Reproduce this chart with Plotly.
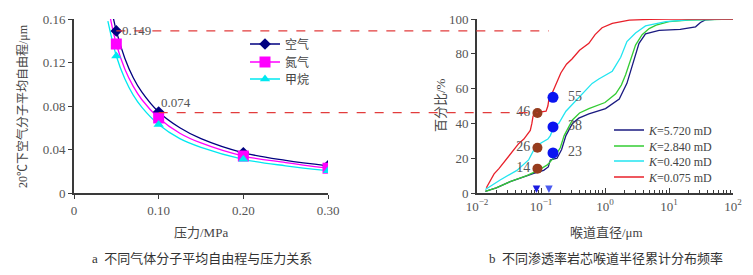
import math
import plotly.graph_objects as go

# ---------------- data: left chart (mean free path vs pressure) ----------------
pressure = [0.04, 0.05, 0.06, 0.07, 0.08, 0.10, 0.125, 0.15, 0.20, 0.25, 0.30]
mfp_air = [0.186, 0.149, 0.124, 0.106, 0.093, 0.0745, 0.060, 0.050, 0.037, 0.030, 0.025]
mfp_n2 = [0.172, 0.137, 0.114, 0.098, 0.086, 0.069, 0.055, 0.046, 0.034, 0.028, 0.0228]
mfp_ch4 = [0.158, 0.126, 0.105, 0.090, 0.079, 0.063, 0.050, 0.042, 0.031, 0.025, 0.0205]
marker_pressure = [0.05, 0.10, 0.20, 0.30]
gas_names = ["空气", "氮气", "甲烷"]
left_xticks = [0, 0.10, 0.20, 0.30]
left_xtick_text = ["0", "0.10", "0.20", "0.30"]
left_yticks = [0, 0.04, 0.08, 0.12, 0.16]
left_ytick_text = ["0", "0.04", "0.08", "0.12", "0.16"]
label_hi = 0.149
label_lo = 0.074

# ---------------- data: right chart (cumulative pore-throat distribution) ----------------
d_k5720 = [0.0135, 0.02, 0.033, 0.05, 0.077, 0.11, 0.13, 0.14, 0.178, 0.21, 0.245, 0.28, 0.31, 0.39,
           0.56, 1.02, 1.3, 1.67, 2.2, 2.8, 3.4, 4.3, 5.5, 7.0, 15, 26, 31, 37, 60, 100]
p_k5720 = [1, 3, 6.5, 9, 11.3, 13, 15, 19, 20, 25, 33, 37, 40, 43,
           45.5, 48.5, 51, 54, 63, 76, 86, 91.5, 92.5, 93.5, 94, 95.5, 98, 99.5, 100, 100]
d_k2840 = [0.0135, 0.02, 0.033, 0.06, 0.09, 0.124, 0.14, 0.165, 0.2, 0.23, 0.31, 0.4, 0.56, 1.0,
           1.47, 1.8, 2.1, 2.5, 3.0, 3.8, 4.9, 6.3, 10, 20, 100]
p_k2840 = [1, 3, 6.5, 10, 13, 16, 18, 21, 26, 33, 42, 46, 48.5, 52,
           57, 62, 68, 77, 85, 91, 94.5, 96.5, 98.5, 99.3, 100]
d_k0420 = [0.0135, 0.023, 0.042, 0.064, 0.078, 0.1, 0.128, 0.14, 0.158, 0.19, 0.245, 0.35, 0.45,
           0.63, 0.8, 1.3, 1.76, 2.2, 3.0, 4.3, 8.9, 20, 100]
p_k0420 = [2, 7.5, 13, 19, 25, 28.7, 31, 33, 38, 40, 47, 53, 57,
           63, 65.5, 70, 78, 87, 92, 96, 98.5, 99.5, 100]
d_k0075 = [0.014, 0.017, 0.0185, 0.022, 0.028, 0.035, 0.045, 0.054, 0.063, 0.068, 0.072, 0.075, 0.08,
           0.1, 0.12, 0.128, 0.133, 0.148, 0.17, 0.204, 0.25, 0.305, 0.4, 0.56, 0.7, 0.9, 1.3, 2.4, 5, 10, 100]
p_k0075 = [3, 9, 11, 14, 19, 23, 28.5, 31, 34, 36, 40, 44, 46,
           46.5, 47, 50, 54, 57, 62, 69, 74, 77, 82, 86, 91, 95, 97.5, 99.3, 99.8, 100, 100]
k_names = ["<i>K</i>=5.720 mD", "<i>K</i>=2.840 mD", "<i>K</i>=0.420 mD", "<i>K</i>=0.075 mD"]
lo_points_x = 0.088
lo_points_y = [46, 26, 14]
hi_points_x = 0.154
hi_points_y = [55, 38, 23]
guide_lo_x = 0.085
guide_hi_x = 0.133
right_xticks = [0.01, 0.1, 1, 10, 100]
right_xtick_text = ["10<sup>−2</sup>", "10<sup>−1</sup>", "10<sup>0</sup>", "10<sup>1</sup>", "10<sup>2</sup>"]
right_yticks = [0, 20, 40, 60, 80, 100]

# ---------------- style / layout ----------------
W, H = 753, 275
FONT = "Liberation Serif, Noto Sans CJK SC, serif"
AX = "#3a3a3a"
TXT = "#555555"
L_DOM_X = [74 / W, 328 / W]
R_DOM_X = [477 / W, 733 / W]
DOM_Y = [1 - 193 / H, 1 - 19 / H]
L_XR = [0, 0.30]
L_YR = [0, 0.16]
R_XR = [-2, 2]
R_YR = [0, 100]

gas_colors = ["#000080", "#ff00ff", "#00e8f0"]
gas_symbols = ["diamond", "square", "triangle-up"]
gas_sizes = [9, 11, 9]
k_colors = ["#1a1a80", "#33cc33", "#22e5f0", "#e8202a"]


def lx_paper(p):
    return L_DOM_X[0] + (p - L_XR[0]) / (L_XR[1] - L_XR[0]) * (L_DOM_X[1] - L_DOM_X[0])


def rx_paper(d):
    return R_DOM_X[0] + (math.log10(d) - R_XR[0]) / (R_XR[1] - R_XR[0]) * (R_DOM_X[1] - R_DOM_X[0])


def ly_paper(v):
    return DOM_Y[0] + (v - L_YR[0]) / (L_YR[1] - L_YR[0]) * (DOM_Y[1] - DOM_Y[0])


fig = go.Figure()

# left curves
series = [mfp_air, mfp_n2, mfp_ch4]
legend_ids = ["legend", "legend2", "legend3"]
for i, vals in enumerate(series):
    fig.add_trace(go.Scatter(x=pressure, y=vals, mode="lines", line=dict(color=gas_colors[i], width=1.3, shape="spline"),
                             showlegend=False, xaxis="x", yaxis="y", hoverinfo="skip"))
for i, vals in enumerate(series):
    mx = [p for p in pressure if p in marker_pressure]
    my = [v for p, v in zip(pressure, vals) if p in marker_pressure]
    fig.add_trace(go.Scatter(x=mx, y=my, mode="markers",
                             marker=dict(color=gas_colors[i], symbol=gas_symbols[i], size=gas_sizes[i]),
                             showlegend=False, xaxis="x", yaxis="y"))
    fig.add_trace(go.Scatter(x=[None], y=[None], mode="lines+markers", name=gas_names[i],
                             line=dict(color=gas_colors[i], width=1.5),
                             marker=dict(color=gas_colors[i], symbol=gas_symbols[i], size=gas_sizes[i]),
                             legend=legend_ids[i], xaxis="x", yaxis="y"))

# right curves
k_series = [(d_k5720, p_k5720), (d_k2840, p_k2840), (d_k0420, p_k0420), (d_k0075, p_k0075)]
k_legends = ["legend4", "legend5", "legend6", "legend7"]
for i, (dx, py) in enumerate(k_series):
    fig.add_trace(go.Scatter(x=dx, y=py, mode="lines", name=k_names[i], line=dict(color=k_colors[i], width=1.3),
                             legend=k_legends[i], xaxis="x2", yaxis="y2"))

# guide lines
shapes = []
shapes.append(dict(type="line", xref="paper", yref="paper",
                   x0=lx_paper(marker_pressure[0]), x1=rx_paper(guide_hi_x),
                   y0=ly_paper(label_hi), y1=ly_paper(label_hi),
                   line=dict(color="#e23c3c", width=1.2, dash="dash"), layer="above"))
shapes.append(dict(type="line", xref="paper", yref="paper",
                   x0=lx_paper(marker_pressure[1]), x1=rx_paper(lo_points_x),
                   y0=ly_paper(label_lo), y1=ly_paper(label_lo),
                   line=dict(color="#e23c3c", width=1.2, dash="dash"), layer="above"))
hi_top = label_hi / L_YR[1] * R_YR[1]
shapes.append(dict(type="line", xref="x2", yref="y2", x0=math.log10(guide_hi_x), x1=math.log10(guide_hi_x),
                   y0=hi_top, y1=1.5, line=dict(color="#4a5af0", width=1.5, dash="dash"), layer="above"))
shapes.append(dict(type="line", xref="x2", yref="y2", x0=math.log10(guide_lo_x), x1=math.log10(guide_lo_x),
                   y0=lo_points_y[0], y1=1.5, line=dict(color="#1a1ae0", width=1.5, dash="dot"), layer="above"))

# points
fig.add_trace(go.Scatter(x=[lo_points_x] * 3, y=lo_points_y, mode="markers+text",
                         text=[str(v) for v in lo_points_y], textposition="middle left",
                         textfont=dict(family=FONT, size=14, color=TXT),
                         marker=dict(color="#963c1e", size=10), showlegend=False, xaxis="x2", yaxis="y2"))
fig.add_trace(go.Scatter(x=[hi_points_x] * 3, y=hi_points_y, mode="markers+text",
                         text=["  " + str(v) for v in hi_points_y], textposition="middle right",
                         textfont=dict(family=FONT, size=14, color=TXT),
                         marker=dict(color="#0a14f0", size=11), showlegend=False, xaxis="x2", yaxis="y2"))

annotations = []
for gx, col in [(guide_lo_x, "#1a1ae0"), (guide_hi_x, "#4a5af0")]:
    annotations.append(dict(x=math.log10(gx), y=0, xref="x2", yref="y2", ax=0, ay=-7, text="",
                            showarrow=True, arrowhead=2, arrowsize=1, arrowwidth=1.5, arrowcolor=col))
annotations.append(dict(x=marker_pressure[0], y=label_hi, xref="x", yref="y", text=f"{label_hi:.3f}",
                        showarrow=False, xanchor="left", yanchor="middle", xshift=4,
                        font=dict(family=FONT, size=13, color=TXT)))
annotations.append(dict(x=marker_pressure[1], y=label_lo, xref="x", yref="y", text=f"{label_lo:.3f}",
                        showarrow=False, xanchor="left", yanchor="bottom", yshift=1,
                        font=dict(family=FONT, size=13, color=TXT)))


def paper_text(px, py, text, size=13, color="#444", angle=0):
    return dict(x=px / W, y=1 - py / H, xref="paper", yref="paper", text=text, textangle=angle,
                xanchor="center", yanchor="middle", showarrow=False,
                font=dict(family=FONT, size=size, color=color))


annotations.append(paper_text(22, 106, "20℃下空气分子平均自由程/μm", size=12, angle=-90))
annotations.append(paper_text(440, 105, "百分比/%", angle=-90))
annotations.append(paper_text(201, 232, "压力/MPa"))
annotations.append(paper_text(606, 232, "喉道直径/μm"))
annotations.append(paper_text(202, 258, "a  不同气体分子平均自由程与压力关系", color="#333"))
annotations.append(paper_text(606, 258, "b  不同渗透率岩芯喉道半径累计分布频率", color="#333"))

axis_common = dict(showline=True, linecolor=AX, linewidth=2, showgrid=False, zeroline=False, automargin=False,
                   tickcolor=AX, tickfont=dict(family=FONT, size=13, color=TXT), fixedrange=True)

legend_common = dict(bgcolor="rgba(0,0,0,0)", borderwidth=0, xanchor="left", yanchor="middle",
                     font=dict(family=FONT, size=12, color="#444"), tracegroupgap=0)

layout_legends = {}
left_leg_y = [44, 62, 79]
for i, lid in enumerate(legend_ids):
    layout_legends[lid] = dict(legend_common, x=245 / W, y=1 - left_leg_y[i] / H)
right_leg_y = [130, 146, 161, 177]
for i, lid in enumerate(k_legends):
    layout_legends[lid] = dict(legend_common, x=609 / W, y=1 - right_leg_y[i] / H)

fig.update_layout(
    width=W, height=H, margin=dict(l=0, r=0, t=0, b=0, pad=0, autoexpand=False),
    paper_bgcolor="white", plot_bgcolor="white",
    font=dict(family=FONT, color="#444"),
    xaxis=dict(axis_common, domain=L_DOM_X, range=L_XR, tickvals=left_xticks, ticktext=left_xtick_text,
               ticks="outside", ticklen=4, anchor="y"),
    yaxis=dict(axis_common, domain=DOM_Y, range=L_YR, tickvals=left_yticks, ticktext=left_ytick_text,
               ticks="outside", ticklen=4, anchor="x"),
    xaxis2=dict(axis_common, domain=R_DOM_X, type="log", range=R_XR, tickvals=right_xticks,
                ticktext=right_xtick_text, ticks="inside", ticklen=5, anchor="y2",
                minor=dict(ticks="inside", ticklen=3, dtick="D1", tickcolor=AX)),
    yaxis2=dict(axis_common, domain=DOM_Y, range=R_YR, tickvals=right_yticks, ticks="outside", ticklen=4,
                anchor="x2"),
    shapes=shapes, annotations=annotations,
    **layout_legends,
)

fig.write_html("out.html", config={"displayModeBar": False},
               post_script="document.body.style.margin='0';document.body.style.padding='0';")
